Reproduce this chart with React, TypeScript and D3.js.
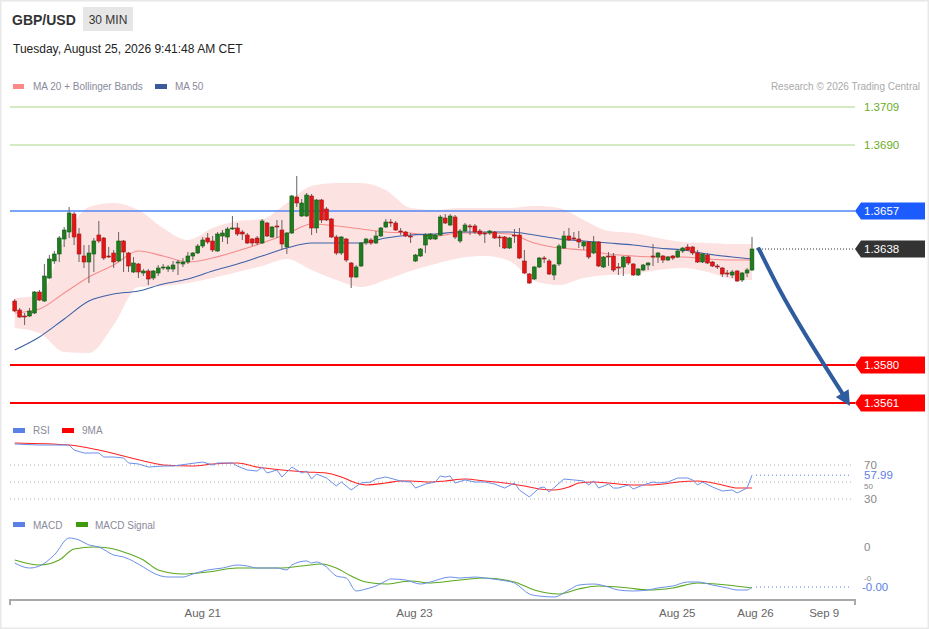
import React from 'react';
import * as d3 from 'd3';

// ---------- DATA ----------
const openP = [1.36120,1.36075,1.36045,1.36045,1.36060,1.36165,1.36120,1.36235,1.36320,1.36355,
1.36430,1.36465,1.36555,1.36455,1.36345,1.36315,1.36355,1.36450,1.36435,1.36345,
1.36360,1.36320,1.36420,1.36360,1.36265,1.36305,1.36260,1.36270,1.36235,1.36260,
1.36285,1.36280,1.36280,1.36310,1.36305,1.36315,1.36345,1.36360,1.36395,1.36435,
1.36420,1.36370,1.36445,1.36440,1.36480,1.36485,1.36465,1.36450,1.36430,1.36435,
1.36410,1.36510,1.36440,1.36495,1.36475,1.36390,1.36460,1.36640,1.36545,1.36545,
1.36645,1.36485,1.36625,1.36580,1.36530,1.36440,1.36360,1.36430,1.36310,1.36240,
1.36295,1.36410,1.36425,1.36410,1.36445,1.36490,1.36515,1.36510,1.36470,1.36465,
1.36445,1.36320,1.36345,1.36400,1.36430,1.36430,1.36450,1.36535,1.36500,1.36540,
1.36420,1.36470,1.36495,1.36495,1.36470,1.36460,1.36460,1.36465,1.36440,1.36440,
1.36385,1.36450,1.36450,1.36320,1.36255,1.36230,1.36290,1.36335,1.36320,1.36250,
1.36305,1.36385,1.36445,1.36435,1.36430,1.36395,1.36415,1.36360,1.36415,1.36290,
1.36345,1.36345,1.36290,1.36290,1.36340,1.36305,1.36250,1.36275,1.36300,1.36345,
1.36340,1.36345,1.36325,1.36345,1.36340,1.36370,1.36390,1.36390,1.36360,1.36315,
1.36350,1.36315,1.36295,1.36285,1.36260,1.36250,1.36270,1.36225,1.36260,1.36275];
const highP = [1.36130,1.36085,1.36060,1.36085,1.36170,1.36175,1.36305,1.36350,1.36370,1.36445,
1.36490,1.36590,1.36565,1.36485,1.36400,1.36400,1.36435,1.36520,1.36440,1.36390,
1.36375,1.36465,1.36425,1.36365,1.36340,1.36310,1.36280,1.36280,1.36275,1.36300,
1.36305,1.36300,1.36320,1.36325,1.36335,1.36365,1.36365,1.36405,1.36440,1.36460,
1.36445,1.36465,1.36475,1.36490,1.36545,1.36510,1.36475,1.36460,1.36435,1.36445,
1.36530,1.36515,1.36495,1.36525,1.36525,1.36465,1.36650,1.36745,1.36630,1.36660,
1.36655,1.36630,1.36630,1.36590,1.36535,1.36450,1.36445,1.36435,1.36315,1.36300,
1.36415,1.36435,1.36435,1.36470,1.36490,1.36530,1.36530,1.36520,1.36485,1.36470,
1.36460,1.36355,1.36385,1.36460,1.36460,1.36455,1.36550,1.36555,1.36555,1.36550,
1.36480,1.36510,1.36505,1.36505,1.36480,1.36465,1.36475,1.36470,1.36450,1.36445,
1.36440,1.36480,1.36485,1.36375,1.36260,1.36295,1.36340,1.36345,1.36330,1.36305,
1.36405,1.36470,1.36485,1.36465,1.36470,1.36420,1.36420,1.36445,1.36420,1.36345,
1.36365,1.36360,1.36310,1.36345,1.36345,1.36310,1.36285,1.36305,1.36315,1.36405,
1.36365,1.36350,1.36345,1.36350,1.36375,1.36390,1.36405,1.36395,1.36375,1.36360,
1.36360,1.36320,1.36305,1.36290,1.36275,1.36275,1.36275,1.36265,1.36285,1.36440];
const lowP = [1.36065,1.36035,1.36000,1.36040,1.36055,1.36120,1.36115,1.36230,1.36305,1.36315,
1.36390,1.36435,1.36400,1.36315,1.36285,1.36210,1.36265,1.36410,1.36325,1.36335,
1.36285,1.36315,1.36265,1.36265,1.36260,1.36235,1.36245,1.36200,1.36225,1.36245,
1.36275,1.36265,1.36265,1.36250,1.36290,1.36305,1.36325,1.36355,1.36385,1.36405,
1.36365,1.36365,1.36415,1.36405,1.36475,1.36445,1.36425,1.36405,1.36395,1.36400,
1.36405,1.36440,1.36435,1.36435,1.36375,1.36355,1.36455,1.36590,1.36540,1.36540,
1.36450,1.36460,1.36510,1.36520,1.36435,1.36350,1.36350,1.36315,1.36185,1.36235,
1.36290,1.36400,1.36400,1.36405,1.36440,1.36485,1.36490,1.36470,1.36450,1.36440,
1.36410,1.36315,1.36340,1.36360,1.36425,1.36425,1.36445,1.36505,1.36495,1.36430,
1.36410,1.36465,1.36450,1.36455,1.36445,1.36410,1.36450,1.36430,1.36390,1.36380,
1.36380,1.36410,1.36330,1.36255,1.36205,1.36225,1.36285,1.36310,1.36250,1.36225,
1.36295,1.36380,1.36420,1.36425,1.36385,1.36375,1.36330,1.36355,1.36290,1.36285,
1.36295,1.36265,1.36250,1.36245,1.36300,1.36245,1.36245,1.36270,1.36275,1.36295,
1.36310,1.36310,1.36320,1.36325,1.36335,1.36360,1.36370,1.36350,1.36310,1.36310,
1.36305,1.36290,1.36280,1.36240,1.36240,1.36235,1.36215,1.36215,1.36240,1.36270];
const closeP = [1.36070,1.36040,1.36040,1.36070,1.36165,1.36125,1.36245,1.36330,1.36355,1.36435,
1.36475,1.36560,1.36440,1.36355,1.36315,1.36360,1.36420,1.36420,1.36335,1.36340,
1.36315,1.36420,1.36365,1.36295,1.36310,1.36265,1.36270,1.36230,1.36270,1.36285,
1.36290,1.36290,1.36300,1.36315,1.36315,1.36345,1.36360,1.36395,1.36425,1.36415,
1.36375,1.36455,1.36460,1.36480,1.36485,1.36455,1.36455,1.36410,1.36410,1.36410,
1.36520,1.36445,1.36490,1.36490,1.36405,1.36460,1.36645,1.36610,1.36610,1.36650,
1.36485,1.36625,1.36525,1.36525,1.36440,1.36360,1.36440,1.36325,1.36240,1.36290,
1.36410,1.36430,1.36410,1.36445,1.36485,1.36515,1.36510,1.36475,1.36465,1.36445,
1.36440,1.36350,1.36380,1.36450,1.36455,1.36450,1.36540,1.36510,1.36545,1.36440,
1.36470,1.36500,1.36490,1.36465,1.36455,1.36455,1.36470,1.36435,1.36435,1.36385,
1.36435,1.36445,1.36335,1.36260,1.36210,1.36290,1.36335,1.36330,1.36255,1.36300,
1.36395,1.36445,1.36425,1.36430,1.36415,1.36415,1.36340,1.36415,1.36295,1.36340,
1.36340,1.36275,1.36285,1.36340,1.36310,1.36250,1.36280,1.36300,1.36310,1.36340,
1.36360,1.36325,1.36340,1.36335,1.36370,1.36385,1.36375,1.36360,1.36315,1.36355,
1.36310,1.36295,1.36290,1.36255,1.36255,1.36265,1.36220,1.36260,1.36275,1.36380];

// moving averages and Bollinger bands, read every 5 bars
const bandAt = [0,5,10,15,20,25,30,35,40,45,50,55,60,65,70,75,80,85,90,95,100,105,110,115,120,125,130,135,140,145,149];
const ma20 = [1.36060,1.36080,1.36160,1.36240,1.36300,1.36370,1.36345,1.36315,1.36335,1.36370,1.36410,1.36455,1.36505,1.36495,1.36480,1.36465,1.36460,1.36445,1.36460,1.36460,1.36455,1.36410,1.36385,1.36375,1.36355,1.36345,1.36340,1.36340,1.36330,1.36325,1.36325];
const ma50 = [1.35875,1.35940,1.36030,1.36120,1.36155,1.36170,1.36205,1.36230,1.36270,1.36305,1.36345,1.36385,1.36410,1.36410,1.36410,1.36435,1.36450,1.36455,1.36465,1.36465,1.36465,1.36450,1.36430,1.36420,1.36410,1.36400,1.36385,1.36375,1.36355,1.36340,1.36330];
const bbUpper = [1.36135,1.36150,1.36425,1.36590,1.36610,1.36575,1.36485,1.36425,1.36485,1.36520,1.36530,1.36610,1.36695,1.36710,1.36710,1.36675,1.36585,1.36575,1.36585,1.36585,1.36585,1.36595,1.36585,1.36525,1.36470,1.36460,1.36435,1.36415,1.36410,1.36405,1.36405];
const bbLower = [1.35985,1.35960,1.35865,1.35860,1.36000,1.36190,1.36195,1.36210,1.36235,1.36265,1.36295,1.36330,1.36275,1.36225,1.36190,1.36225,1.36270,1.36305,1.36335,1.36345,1.36320,1.36220,1.36200,1.36235,1.36250,1.36255,1.36275,1.36285,1.36265,1.36230,1.36225];

// RSI and its 9-period MA
const rsiAt = [0,5,11,12,14,17,18,20,22,23,25,27,30,32,35,38,40,41,44,45,47,49,50,51,53,54,56,58,59,60,61,63,65,66,68,70,72,73,75,78,80,81,83,85,86,87,88,89,91,93,95,97,99,101,102,104,106,107,108,111,113,115,116,117,118,120,121,122,124,125,127,129,130,132,134,136,137,138,139,141,143,145,146,148,149];
const rsiVal = [94.7,93.5,93.5,87.6,84.1,84.1,79.4,79.4,78.2,72.4,71.2,67.6,68.8,68.8,71.2,73.5,70,72.4,72.4,68.8,64.1,62.9,67.6,60.6,64.1,55.9,67.6,60.6,62.9,53.5,59.4,54.7,45.3,50,40.6,48.8,50,53.5,55.9,51.2,50,42.9,47.6,50,57.1,55.9,57.1,48.8,52.4,50,50,47.6,42.9,48.8,40.6,32.4,42.9,44.1,38.2,53.5,52.4,51.2,46.5,51.2,42.9,47.6,42.9,42.9,46.5,41.8,46.5,50,48.8,50,54.7,54.7,52.4,46.5,50,44.1,39.4,40.6,37.1,42.9,57.99];
const rsiMaAt = [0,11,17,22,27,30,36,40,45,49,54,59,63,66,69,71,75,78,80,84,87,91,95,99,103,106,109,112,114,117,120,122,125,128,131,134,138,140,143,146,149];
const rsiMaVal = [95.9,93.5,87.6,80.6,73.5,70,68.8,71.2,72.4,67.6,64.1,61.8,60.6,55.9,48.8,46.5,48.8,51.2,51.2,50,51.2,53.5,51.2,48.8,45.3,41.8,40.6,44.1,48.8,50,48.8,47.6,46.5,46.5,47.6,50,51.2,50,46.5,42.9,42.9];
const rsiTicks = [70, 50, 30];
const rsiLastLabel = '57.99';

// MACD (in pips) and signal
const macdAt = [0,3,5,8,11,13,15,17,20,22,26,28,31,34,36,39,42,45,47,49,51,53,55,56,59,60,61,63,65,67,69,71,73,75,76,79,82,84,88,90,93,95,98,101,104,106,109,112,114,117,120,122,125,128,130,133,136,138,141,144,146,148,149];
const macdVal = [2.78,2.08,2.36,3.89,6.25,5.97,5.28,5.0,3.89,3.61,2.22,1.39,0.83,0.83,1.25,1.81,2.08,2.5,2.36,2.08,2.08,2.08,1.81,2.5,3.06,2.78,2.92,2.22,0.97,0.69,-1.11,-0.83,-0.42,0.28,0.56,0.42,-0.14,0.14,0.83,0.69,0.83,0.69,0.42,0,-1.53,-1.81,-1.94,-0.97,-0.28,-0.14,-0.56,-0.97,-1.11,-0.97,-0.69,-0.42,0.14,0.14,-0.28,-0.69,-0.97,-0.97,-0.56];
const sigAt = [0,5,9,12,16,19,22,26,29,34,39,45,50,54,58,62,65,68,71,75,80,84,90,95,101,105,110,114,118,124,128,133,138,144,149];
const sigVal = [3.19,2.5,3.19,4.72,5.0,4.86,4.31,3.19,1.81,1.25,1.53,2.08,2.08,2.08,2.36,2.64,2.08,0.97,0.14,-0.14,0.28,0,0.42,0.69,0.14,-0.97,-1.53,-0.83,-0.42,-0.69,-0.97,-0.69,0,-0.28,-0.69];
const macdTickVals = [5, 0.3];
const macdTickLabels = ['0', '-0'];
const macdLastLabel = '-0.00';

// key levels
const resistances = [1.3709, 1.3690];
const pivotLevel = 1.3657;
const supports = [1.3580, 1.3561];
const lastPrice = 1.3638;

// arrow path (bar index, price)
const arrowAt = [150.4, 154.6, 168.8];
const arrowPx = [1.3638, 1.36175, 1.35595];

// x axis
const xTickAt = [38, 80.8, 133.9, 149.7, 163.6];
const xTickLabels = ['Aug 21', 'Aug 23', 'Aug 25', 'Aug 26', 'Sep 9'];

const FONT = "'Liberation Sans', Arial, Helvetica, sans-serif";

export default function App() {
  const n = closeP.length;
  const x = d3.scaleLinear().domain([0, n - 1]).range([14.7, 752]);
  const y = d3.scaleLinear().domain([1.3561, 1.3709]).range([403, 107]);
  const yR = d3.scaleLinear().domain([30, 70]).range([499, 465]);
  const yM = d3.scaleLinear().domain([0, 5]).range([583, 547]);

  const left = 10;
  const right = 855;
  const labelX = 864;

  const band = d3.area<number>()
    .x((_, i) => x(bandAt[i]))
    .y0((_, i) => y(bbLower[i]))
    .y1((_, i) => y(bbUpper[i]))
    .curve(d3.curveMonotoneX);
  const lineOf = (at: number[], vals: number[], ys: d3.ScaleLinear<number, number>, curve: d3.CurveFactory) =>
    d3.line<number>().x((_, i) => x(at[i])).y((d) => ys(d)).curve(curve)(vals) || '';

  const bw = 3.8;

  // arrow geometry
  const ap = arrowAt.map((a, i) => [x(a), y(arrowPx[i])] as [number, number]);
  const tip = ap[ap.length - 1];
  const prev = ap[ap.length - 2];
  const dx = tip[0] - prev[0], dy = tip[1] - prev[1];
  const len = Math.hypot(dx, dy);
  const ux = dx / len, uy = dy / len;
  const headL = 15, headW = 7.5;
  const base: [number, number] = [tip[0] - ux * headL, tip[1] - uy * headL];
  const headPts = [
    tip,
    [base[0] - uy * headW, base[1] + ux * headW],
    [base[0] + uy * headW, base[1] - ux * headW],
  ].map((p) => p.join(',')).join(' ');
  const shaft = d3.line().curve(d3.curveMonotoneY)([ap[0], ap[1], base]) || '';

  const tag = (yy: number, fill: string, text: string) => (
    <g key={text}>
      <path d={`M${right},${yy} L${right + 6},${yy - 8.5} L925,${yy - 8.5} L925,${yy + 8.5} L${right + 6},${yy + 8.5} Z`} fill={fill} />
      <text x={labelX} y={yy + 4} fontSize={11.5} fill="#fff">{text}</text>
    </g>
  );

  const lastX = x(n - 1) + 4;
  const rsiLastY = yR(rsiVal[rsiVal.length - 1]);
  const macdLastY = yM(macdVal[macdVal.length - 1]);

  return (
    <svg width={929} height={629} style={{ position: 'absolute', left: 0, top: 0, background: '#fff' }} fontFamily={FONT}>
      <rect x={0.5} y={0.5} width={928} height={628} fill="#fff" stroke="#e8e8e8" strokeWidth={2} />

      {/* header */}
      <text x={12} y={25} fontSize={14} fontWeight="bold" fill="#333">GBP/USD</text>
      <rect x={83} y={7} width={50} height={24} fill="#e6e6e6" />
      <text x={108} y={23.5} fontSize={12} fill="#333" textAnchor="middle">30 MIN</text>
      <text x={13} y={53} fontSize={12} fill="#222">Tuesday, August 25, 2026 9:41:48 AM CET</text>

      {/* legend */}
      <rect x={13} y={84} width={11} height={5} fill="#f88" />
      <text x={33} y={90} fontSize={10} fill="#8a8a9a">MA 20 + Bollinger Bands</text>
      <rect x={155} y={84} width={12} height={5} fill="#3a5a9c" />
      <text x={175} y={90} fontSize={10} fill="#8a8a9a">MA 50</text>
      <text x={920} y={90} fontSize={10} fill="#aaa" textAnchor="end">Research © 2026 Trading Central</text>

      {/* resistance lines */}
      {resistances.map((r) => (
        <g key={r}>
          <line x1={left} x2={right} y1={y(r)} y2={y(r)} stroke="#a8d58a" strokeWidth={1.2} />
          <text x={labelX} y={y(r) + 4} fontSize={11.5} fill="#6aad1f">{r.toFixed(4)}</text>
        </g>
      ))}

      {/* Bollinger band */}
      <path d={band(bandAt) || ''} fill="#fde2e2" />
      <path d={lineOf(bandAt, ma20, y, d3.curveMonotoneX)} fill="none" stroke="#f58c8c" strokeWidth={1.1} />
      <path d={lineOf(bandAt, ma50, y, d3.curveMonotoneX)} fill="none" stroke="#3d62a8" strokeWidth={1.1} />

      {/* pivot line */}
      <line x1={left} x2={right} y1={y(pivotLevel)} y2={y(pivotLevel)} stroke="#4f86f7" strokeWidth={1.5} />
      {tag(y(pivotLevel), '#1c5cff', pivotLevel.toFixed(4))}

      {/* supports */}
      {supports.map((s) => (
        <line key={s} x1={left} x2={right} y1={y(s)} y2={y(s)} stroke="#f00" strokeWidth={2} />
      ))}
      {supports.map((s) => tag(y(s), '#f00', s.toFixed(4)))}

      {/* candles */}
      {closeP.map((c, i) => {
        const o = openP[i];
        const up = c >= o;
        const cx = x(i);
        const top = y(Math.max(o, c));
        const bot = y(Math.min(o, c));
        return (
          <g key={i}>
            <line x1={cx} x2={cx} y1={y(highP[i])} y2={y(lowP[i])} stroke="#6b6060" strokeWidth={1} />
            <rect x={cx - bw / 2} y={top} width={bw} height={Math.max(1, bot - top)}
              fill={up ? '#1f7d1f' : '#e61414'} stroke={up ? '#155a15' : '#9a1a1a'} strokeWidth={0.6} />
          </g>
        );
      })}

      {/* last price */}
      <line x1={lastX} x2={right} y1={y(lastPrice)} y2={y(lastPrice)} stroke="#333" strokeWidth={1} strokeDasharray="1,2" />
      {tag(y(lastPrice), '#333', lastPrice.toFixed(4))}

      {/* arrow */}
      <path d={shaft} fill="none" stroke="#2f5c9e" strokeWidth={4} strokeLinecap="round" />
      <polygon points={headPts} fill="#2f5c9e" />

      {/* RSI panel */}
      <rect x={13} y={428} width={12} height={5} fill="#5b80e6" />
      <text x={33} y={434} fontSize={10} fill="#8a8a9a">RSI</text>
      <rect x={62} y={428} width={12} height={5} fill="#f00" />
      <text x={82} y={434} fontSize={10} fill="#8a8a9a">9MA</text>
      {rsiTicks.map((t) => (
        <g key={t}>
          <line x1={left} x2={right - 3} y1={yR(t)} y2={yR(t)} stroke="#b0b0b0" strokeWidth={1} strokeDasharray="1,3" />
          <text x={labelX} y={yR(t) + (t === 50 ? 7 : 4)} fontSize={t === 50 ? 8 : 11.5} fill="#888">{t}</text>
        </g>
      ))}
      <path d={lineOf(rsiMaAt, rsiMaVal, yR, d3.curveMonotoneX)} fill="none" stroke="#f22" strokeWidth={1.1} />
      <path d={lineOf(rsiAt, rsiVal, yR, d3.curveLinear)} fill="none" stroke="#6b8fe8" strokeWidth={1} />
      <line x1={lastX} x2={right - 3} y1={rsiLastY} y2={rsiLastY} stroke="#5b80e6" strokeWidth={1} strokeDasharray="1,3" />
      <rect x={labelX - 2} y={rsiLastY - 5.5} width={38} height={11.5} fill="#fff" />
      <text x={labelX} y={rsiLastY + 4} fontSize={11.5} fill="#5b80e6">{rsiLastLabel}</text>

      {/* MACD panel */}
      <rect x={13} y={522} width={12} height={5} fill="#5b80e6" />
      <text x={33} y={529} fontSize={10} fill="#8a8a9a">MACD</text>
      <rect x={76} y={522} width={12} height={5} fill="#3f9a10" />
      <text x={95} y={529} fontSize={10} fill="#8a8a9a">MACD Signal</text>
      {macdTickVals.map((t, i) => (
        <text key={t} x={labelX} y={yM(t) + (i === 1 ? 0 : 4)} fontSize={i === 1 ? 8 : 11.5} fill="#888">{macdTickLabels[i]}</text>
      ))}
      <path d={lineOf(sigAt, sigVal, yM, d3.curveMonotoneX)} fill="none" stroke="#5aa81e" strokeWidth={1.1} />
      <path d={lineOf(macdAt, macdVal, yM, d3.curveMonotoneX)} fill="none" stroke="#6b8fe8" strokeWidth={1} />
      <line x1={lastX} x2={right - 3} y1={macdLastY} y2={macdLastY} stroke="#5b80e6" strokeWidth={1} strokeDasharray="1,3" />
      <rect x={labelX - 3} y={macdLastY - 6} width={36} height={13} fill="#fff" />
      <text x={labelX - 2} y={macdLastY + 4} fontSize={11.5} fill="#5b80e6">{macdLastLabel}</text>

      {/* x axis */}
      <path d={`M${left},605 L${left},600 L${right},600 L${right},605`} fill="none" stroke="#aaa" strokeWidth={2} />
      {xTickAt.map((t, i) => (
        <text key={i} x={x(t)} y={617} fontSize={11.5} fill="#666" textAnchor="middle">{xTickLabels[i]}</text>
      ))}
    </svg>
  );
}
